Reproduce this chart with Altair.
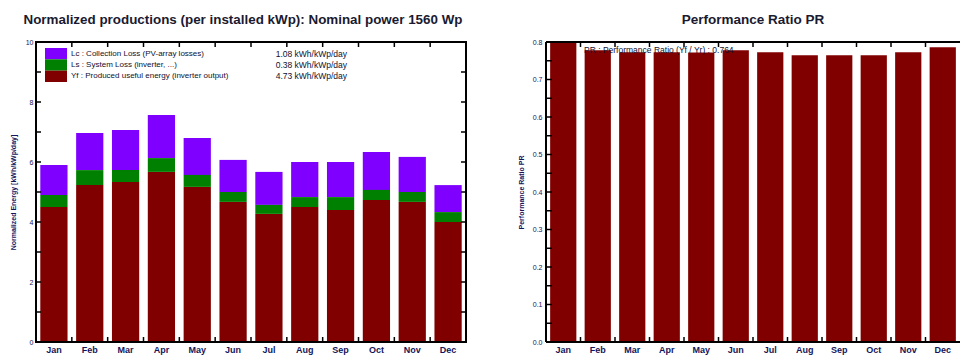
import altair as alt
import pandas as pd

# ---------------- data ----------------
months = ["Jan", "Feb", "Mar", "Apr", "May", "Jun", "Jul", "Aug", "Sep", "Oct", "Nov", "Dec"]
yf = [4.50, 5.23, 5.33, 5.67, 5.17, 4.67, 4.27, 4.50, 4.40, 4.73, 4.67, 4.00]
ls = [0.40, 0.50, 0.40, 0.46, 0.40, 0.33, 0.30, 0.33, 0.43, 0.34, 0.33, 0.33]
lc = [1.00, 1.24, 1.34, 1.44, 1.23, 1.07, 1.10, 1.17, 1.17, 1.26, 1.17, 0.90]
pr = [0.800, 0.778, 0.773, 0.773, 0.772, 0.778, 0.773, 0.765, 0.765, 0.765, 0.773, 0.786]

comp_keys = ["Lc", "Ls", "Yf"]
comp_labels = [
    "Lc : Collection Loss (PV-array losses)",
    "Ls : System Loss  (inverter, ...)",
    "Yf : Produced useful energy  (inverter output)",
]
comp_values = ["1.08 kWh/kWp/day", "0.38 kWh/kWp/day", "4.73 kWh/kWp/day"]
comp_colors = ["#8000FF", "#008000", "#800000"]
stack_rank = [2, 1, 0]

pr_legend = ["PR : Performance Ratio (Yf / Yr) :  0.764"]

left_title = "Normalized productions (per installed kWp):  Nominal power 1560 Wp"
right_title = "Performance Ratio PR"
left_ytitle = "Normalized Energy [kWh/kWp/day]"
right_ytitle = "Performance Ratio PR"

left_yticks = [0, 2, 4, 6, 8, 10]
left_minor = list(range(0, 11))
right_yticks = [round(i * 0.1, 1) for i in range(9)]
right_minor = [round(i * 0.05, 2) for i in range(17)]
boundaries = list(range(1, 12))

# ---------------- style ----------------
FONT = "Liberation Sans"
LABEL_COLOR = "#14145a"
W1, W2, H = 430, 414, 300

rows = []
for i, m in enumerate(months):
    for k, vals, r in zip(comp_keys, [lc, ls, yf], stack_rank):
        rows.append({"month": m, "key": k, "value": vals[i], "rank": r})
df = pd.DataFrame(rows)
leg_df = pd.DataFrame({"key": comp_keys, "label": comp_labels, "val": comp_values})
pr_df = pd.DataFrame({"month": months, "pr": pr})

xband = alt.Scale(paddingInner=0.24, paddingOuter=0.12)
xaxis = alt.Axis(title=None, labelAngle=0, domain=False, ticks=False, labelPadding=3,
                 labelFont=FONT, labelFontSize=9, labelFontWeight="bold", labelColor=LABEL_COLOR)
color_scale = alt.Scale(domain=comp_keys, range=comp_colors)
bnd_x = alt.X("b:Q", scale=alt.Scale(domain=[0, 12]), axis=None)
bnd_df = pd.DataFrame({"b": boundaries})

# ---------------- left panel ----------------
ys1 = alt.Scale(domain=[0, 10], nice=False)
bars = alt.Chart(df).mark_bar().encode(
    x=alt.X("month:N", sort=months, scale=xband, axis=xaxis),
    y=alt.Y("value:Q", stack="zero", scale=ys1,
            axis=alt.Axis(values=left_yticks, title=left_ytitle, grid=False, domain=False, ticks=False,
                          labelPadding=3, labelFont=FONT, labelFontSize=7, labelColor=LABEL_COLOR,
                          titleFont=FONT, titleFontSize=7, titleFontWeight="bold", titleColor=LABEL_COLOR,
                          titlePadding=9)),
    color=alt.Color("key:N", scale=color_scale, legend=None),
    order=alt.Order("rank:Q"),
)

frame1 = alt.Chart(bnd_df.head(1)).mark_rect(fill="transparent", stroke="black", strokeWidth=2).encode(
    x=alt.value(0), x2=alt.value(W1), y=alt.value(0), y2=alt.value(H))

ltick = alt.Chart(pd.DataFrame({"v": left_minor})).mark_rule(color="black", strokeWidth=1.5).encode(
    y=alt.Y("v:Q", scale=ys1, axis=None), x=alt.value(0), x2=alt.value(5))
rtick = alt.Chart(pd.DataFrame({"v": left_minor})).mark_rule(color="black", strokeWidth=1.5).encode(
    y=alt.Y("v:Q", scale=ys1, axis=None), x=alt.value(W1 - 5), x2=alt.value(W1))
ttick1 = alt.Chart(bnd_df).mark_rule(color="black", strokeWidth=1.5).encode(
    x=bnd_x, y=alt.value(0), y2=alt.value(5))
btick1 = alt.Chart(bnd_df).mark_rule(color="black", strokeWidth=1.5).encode(
    x=bnd_x, y=alt.value(H - 5), y2=alt.value(H))

leg_y = alt.Y("key:N", sort=comp_keys,
              scale=alt.Scale(type="band", range=[6, 40], paddingInner=0, paddingOuter=0), axis=None)
swatch = alt.Chart(leg_df).mark_rect().encode(
    y=leg_y, x=alt.value(9), x2=alt.value(31),
    color=alt.Color("key:N", scale=color_scale, legend=None))
leg_lab = alt.Chart(leg_df).mark_text(align="left", baseline="middle", font=FONT, fontSize=8, color="#101030").encode(
    y=leg_y, x=alt.value(35), text="label:N")
leg_val = alt.Chart(leg_df).mark_text(align="right", baseline="middle", font=FONT, fontSize=8.5, color="#101030").encode(
    y=leg_y, x=alt.value(311), text="val:N")

left = alt.layer(bars, ltick, rtick, ttick1, btick1, frame1, swatch, leg_lab, leg_val).resolve_scale(
    x="independent", y="independent"
).properties(
    width=W1, height=H,
    title=alt.TitleParams(left_title, font=FONT, fontSize=13.4, fontWeight="bold", color="#1a1a30",
                          anchor="middle", frame="group", dx=-8, offset=12),
)

# ---------------- right panel ----------------
ys2 = alt.Scale(domain=[0, 0.8], nice=False, clamp=True)
prbars = alt.Chart(pr_df).mark_bar(color="#800000").encode(
    x=alt.X("month:N", sort=months, scale=xband, axis=xaxis),
    y=alt.Y("pr:Q", scale=ys2,
            axis=alt.Axis(values=right_yticks, format=".1f", title=right_ytitle, grid=False, domain=False,
                          ticks=False, labelPadding=4, labelFont=FONT, labelFontSize=7, labelColor=LABEL_COLOR,
                          titleFont=FONT, titleFontSize=7, titleFontWeight="bold", titleColor=LABEL_COLOR,
                          titlePadding=8)),
)
ltick2 = alt.Chart(pd.DataFrame({"v": right_minor})).mark_rule(color="black", strokeWidth=1.5).encode(
    y=alt.Y("v:Q", scale=ys2, axis=None), x=alt.value(0), x2=alt.value(6))
ttick2 = alt.Chart(bnd_df).mark_rule(color="black", strokeWidth=1.5).encode(
    x=bnd_x, y=alt.value(0), y2=alt.value(5))
btick2 = alt.Chart(bnd_df).mark_rule(color="black", strokeWidth=1.5).encode(
    x=bnd_x, y=alt.value(H - 5), y2=alt.value(H))
edge_top = alt.Chart(bnd_df.head(1)).mark_rule(color="black", strokeWidth=2).encode(
    x=alt.value(0), x2=alt.value(W2), y=alt.value(0))
edge_bot = alt.Chart(bnd_df.head(1)).mark_rule(color="black", strokeWidth=2).encode(
    x=alt.value(0), x2=alt.value(W2), y=alt.value(H))
edge_left = alt.Chart(bnd_df.head(1)).mark_rule(color="black", strokeWidth=2).encode(
    x=alt.value(0), y=alt.value(0), y2=alt.value(H))
pr_leg = alt.Chart(pd.DataFrame({"t": pr_legend})).mark_text(
    align="left", baseline="middle", font=FONT, fontSize=8.5, color="#101030").encode(
    x=alt.value(38), y=alt.value(8), text="t:N")

right = alt.layer(prbars, ltick2, ttick2, btick2, edge_top, edge_bot, edge_left, pr_leg).resolve_scale(
    x="independent", y="independent"
).properties(
    width=W2, height=H,
    title=alt.TitleParams(right_title, font=FONT, fontSize=13.5, fontWeight="bold", color="#1a1a30",
                          anchor="middle", frame="group", offset=12),
)

chart = alt.hconcat(left, right, spacing=80, bounds="flush").properties(
    padding={"left": 0, "top": 4, "right": 0, "bottom": 0}
).configure_view(stroke="transparent")

chart.save("out.html", embed_options={"renderer": "svg", "actions": False})
